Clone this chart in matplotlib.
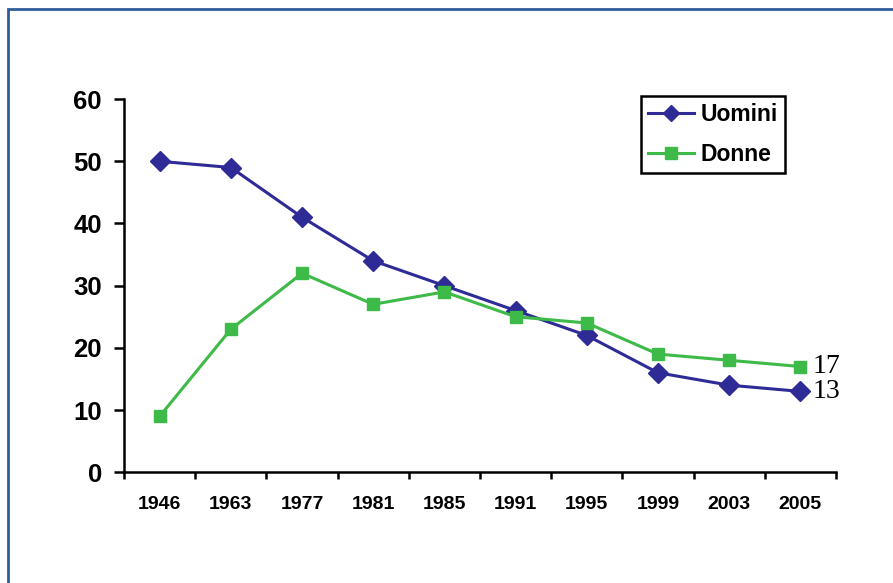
import numpy as np
import matplotlib.pyplot as plt
from matplotlib.patches import Rectangle

# data
anni = ['1946', '1963', '1977', '1981', '1985', '1991', '1995', '1999', '2003', '2005']
uomini = [50, 49, 41, 34, 30, 26, 22, 16, 14, 13]
donne = [9, 23, 32, 27, 29, 25, 24, 19, 18, 17]
yticks = [0, 10, 20, 30, 40, 50, 60]

blu = '#2E2B96'
verde = '#3DBA47'

plt.rcParams['font.family'] = ['Liberation Sans', 'DejaVu Sans']

fig = plt.figure(figsize=(8.93, 5.83), dpi=100)
ax = fig.add_axes([0.139, 0.190, 0.797, 0.640])

x = np.arange(len(anni))
ax.plot(x, uomini, color=blu, lw=2.2, marker='D', ms=10, label='Uomini')
ax.plot(x, donne, color=verde, lw=2.2, marker='s', ms=9, label='Donne')

# end labels
ax.text(x[-1] + 0.17, donne[-1], str(donne[-1]), family='Liberation Serif',
        fontsize=20, va='center', ha='left')
ax.text(x[-1] + 0.17, uomini[-1], str(uomini[-1]), family='Liberation Serif',
        fontsize=20, va='center', ha='left')

ax.set_xlim(-0.5, len(anni) - 0.5)
ax.set_ylim(0, 60)
ax.set_yticks(yticks)
ax.set_yticklabels([str(v) for v in yticks], fontsize=18.5, fontweight='bold')

# ticks between categories, labels in the middle
ax.set_xticks(np.arange(-0.5, len(anni), 1.0))
ax.set_xticklabels([])
ax.set_xticks(x, minor=True)
ax.set_xticklabels(anni, minor=True, fontsize=14, fontweight='bold')
ax.tick_params(axis='x', which='minor', length=0, pad=17)
ax.tick_params(axis='x', which='major', length=5, width=1.8, direction='out')
ax.tick_params(axis='y', length=7, width=1.8, direction='out', pad=9)

for s in ['top', 'right']:
    ax.spines[s].set_visible(False)
for s in ['left', 'bottom']:
    ax.spines[s].set_linewidth(1.8)

leg = ax.legend(loc='upper left', bbox_to_anchor=(641 / 893, 1 - 96 / 583),
                bbox_transform=fig.transFigure, fancybox=False,
                edgecolor='black', framealpha=1, prop={'weight': 'bold', 'size': 16.5},
                handlelength=2.0, borderpad=0.3, labelspacing=0.75, handletextpad=0.3,
                borderaxespad=0)
leg.get_frame().set_linewidth(1.8)
for h in leg.legend_handles:
    h.set_markersize(8)

# blue frame round the picture (cut at right and bottom)
fig.patches.append(Rectangle((8 / 893, -0.1), 1.2, 1.1 - 9 / 583, transform=fig.transFigure,
                             fill=False, edgecolor='#2F5C9E', lw=2))

fig.savefig('out.png', dpi=100)
